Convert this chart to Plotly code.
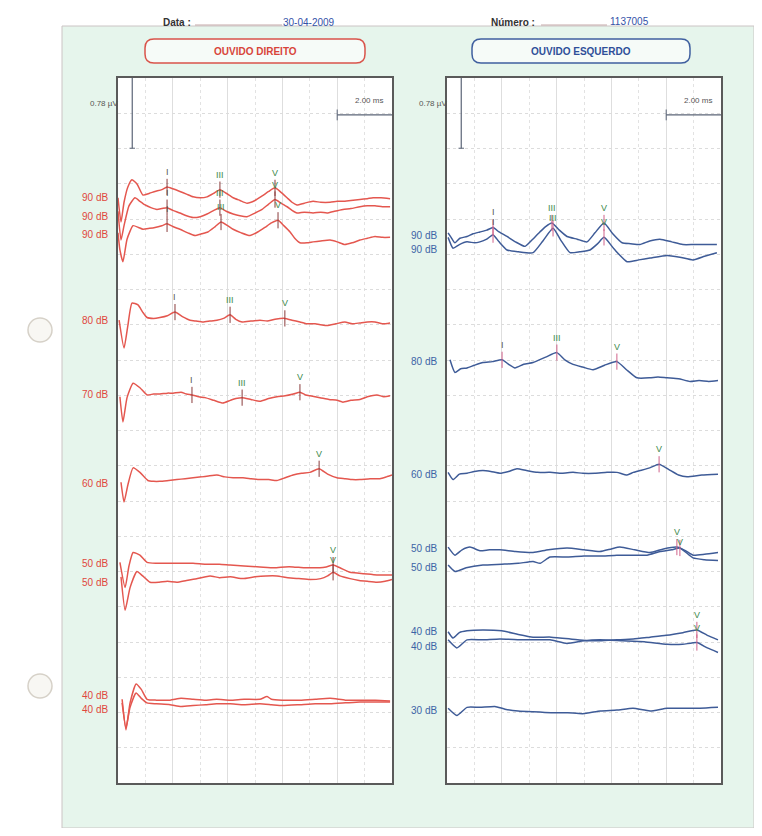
import plotly.graph_objects as go

# The page body has an 8 px margin, so the figure is 16 px smaller than the window
# and every layout position below is given in window pixels, shifted by that margin.
WIN_W, WIN_H = 762, 836
MARGIN = 8
W, H = WIN_W - 2 * MARGIN, WIN_H - 2 * MARGIN
FONT = "Arial, Liberation Sans, sans-serif"

# ---------------- DATA ----------------
exam_date = "30-04-2009"
exam_number = "1137005"
panel_titles = ["OUVIDO DIREITO", "OUVIDO ESQUERDO"]
scale_uv_text = "0.78 µV"
scale_ms_text = "2.00 ms"
scale_uv = 0.78        # µV
scale_ms = 2.00        # ms
window_ms = 10.0
y_span_uv = 7.83

# Ouvido direito (right ear, red) — (latency ms, amplitude µV relative to trace baseline)
od_levels = ["90 dB", "90 dB", "90 dB", "80 dB", "70 dB", "60 dB", "50 dB", "50 dB", "40 dB", "40 dB"]
od_offsets = [6.50, 6.29, 6.09, 5.14, 4.31, 3.33, 2.44, 2.23, 0.97, 0.82]

od_90a = [(0.00, 0.00), (0.11, -0.27), (0.22, -0.05), (0.36, 0.12), (0.51, 0.20), (0.70, 0.15), (0.91, 0.03),
          (1.15, 0.05), (1.35, 0.07), (1.60, 0.09), (1.79, 0.12), (2.00, 0.10), (2.26, 0.07), (2.50, 0.04),
          (2.74, 0.01), (3.00, 0.00), (3.25, 0.01), (3.50, 0.05), (3.72, 0.09), (3.95, 0.05), (4.20, 0.00),
          (4.45, -0.03), (4.71, -0.06), (5.00, -0.03), (5.26, 0.02), (5.50, 0.07), (5.73, 0.11), (5.95, 0.06),
          (6.17, 0.00), (6.35, -0.05), (6.53, -0.08), (6.80, -0.06), (7.12, -0.04), (7.40, -0.05), (7.74, -0.05),
          (8.00, -0.04), (8.21, -0.04), (8.50, -0.03), (8.83, -0.02), (9.10, -0.01), (9.31, 0.00), (9.60, 0.00),
          (9.93, -0.01)]
od_90b = [(0.00, 0.06), (0.11, -0.26), (0.22, -0.10), (0.40, 0.12), (0.62, 0.21), (0.80, 0.17), (0.99, 0.13),
          (1.20, 0.10), (1.42, 0.08), (1.60, 0.09), (1.79, 0.10), (2.00, 0.07), (2.26, 0.04), (2.50, 0.01),
          (2.74, -0.01), (3.00, 0.00), (3.25, 0.03), (3.50, 0.07), (3.72, 0.10), (3.95, 0.06), (4.20, 0.03),
          (4.45, 0.01), (4.71, 0.00), (5.00, 0.04), (5.26, 0.08), (5.50, 0.14), (5.73, 0.19), (5.95, 0.15),
          (6.17, 0.11), (6.35, 0.07), (6.53, 0.04), (6.80, 0.05), (7.12, 0.04), (7.40, 0.05), (7.63, 0.04),
          (7.90, 0.06), (8.21, 0.08), (8.50, 0.09), (8.83, 0.11), (9.10, 0.12), (9.38, 0.12), (9.65, 0.11),
          (9.93, 0.11)]
od_90c = [(0.00, 0.02), (0.07, -0.17), (0.18, -0.30), (0.33, -0.05), (0.55, 0.10), (0.75, 0.08), (0.91, 0.06),
          (1.15, 0.07), (1.35, 0.08), (1.60, 0.10), (1.79, 0.12), (2.00, 0.09), (2.26, 0.06), (2.55, 0.02),
          (2.81, -0.01), (3.05, 0.01), (3.28, 0.03), (3.55, 0.09), (3.76, 0.14), (4.00, 0.10), (4.20, 0.06),
          (4.50, 0.02), (4.82, -0.01), (5.10, 0.03), (5.36, 0.08), (5.60, 0.13), (5.84, 0.16), (6.05, 0.10),
          (6.28, 0.03), (6.45, -0.04), (6.64, -0.09), (6.90, -0.09), (7.12, -0.08), (7.40, -0.07), (7.74, -0.06),
          (8.00, -0.08), (8.28, -0.11), (8.55, -0.09), (8.83, -0.06), (9.10, -0.04), (9.38, -0.02), (9.65, -0.03),
          (9.93, -0.03)]
od_80 = [(0.04, 0.00), (0.22, -0.31), (0.36, -0.06), (0.51, 0.19), (0.73, 0.17), (0.90, 0.09), (1.06, 0.03),
         (1.30, 0.02), (1.53, 0.03), (1.80, 0.05), (2.08, 0.09), (2.35, 0.04), (2.63, 0.00), (2.85, -0.01),
         (3.10, -0.02), (3.35, -0.01), (3.61, 0.00), (3.85, 0.02), (4.09, 0.06), (4.30, 0.01), (4.53, -0.02),
         (4.85, -0.01), (5.18, 0.00), (5.45, -0.01), (5.73, 0.01), (6.09, 0.02), (6.35, 0.00), (6.64, -0.02),
         (6.90, -0.04), (7.19, -0.04), (7.40, -0.05), (7.63, -0.06), (7.95, -0.04), (8.28, -0.02), (8.55, -0.04),
         (8.83, -0.03), (9.10, -0.02), (9.38, -0.02), (9.65, -0.04), (9.93, -0.03)]
od_70 = [(0.07, -0.02), (0.18, -0.30), (0.33, -0.03), (0.55, 0.13), (0.80, 0.08), (1.06, 0.00), (1.30, 0.01),
         (1.53, 0.01), (1.80, 0.02), (2.01, 0.02), (2.30, 0.03), (2.50, 0.01), (2.70, 0.00), (2.95, -0.02),
         (3.18, -0.03), (3.50, -0.06), (3.83, -0.09), (4.10, -0.06), (4.30, -0.04), (4.53, -0.03), (4.85, -0.05),
         (5.18, -0.07), (5.50, -0.04), (5.80, -0.02), (6.10, -0.01), (6.40, 0.01), (6.64, 0.03), (6.85, 0.00),
         (7.01, -0.01), (7.37, -0.03), (7.70, -0.05), (8.00, -0.06), (8.21, -0.08), (8.50, -0.06), (8.83, -0.05),
         (9.10, -0.02), (9.45, 0.00), (9.70, -0.02), (9.93, -0.01)]
od_60 = [(0.11, 0.01), (0.22, -0.21), (0.36, -0.02), (0.55, 0.17), (0.80, 0.12), (1.09, 0.03), (1.30, 0.02),
         (1.53, 0.02), (1.85, 0.03), (2.15, 0.04), (2.45, 0.05), (2.74, 0.06), (3.05, 0.07), (3.30, 0.08),
         (3.61, 0.09), (3.90, 0.07), (4.20, 0.06), (4.56, 0.06), (4.85, 0.05), (5.18, 0.04), (5.50, 0.04),
         (5.80, 0.03), (6.10, 0.06), (6.39, 0.09), (6.70, 0.11), (7.00, 0.12), (7.34, 0.16), (7.65, 0.10),
         (7.99, 0.06), (8.30, 0.05), (8.55, 0.04), (8.83, 0.04), (9.20, 0.05), (9.56, 0.05), (9.80, 0.07),
         (10.00, 0.09)]
od_50a = [(0.07, 0.01), (0.26, -0.27), (0.40, -0.03), (0.55, 0.12), (0.80, 0.09), (1.06, 0.01), (1.40, 0.00),
          (1.90, 0.00), (2.30, 0.00), (2.74, 0.00), (3.20, -0.01), (3.70, -0.01), (4.09, -0.02), (4.60, -0.03),
          (5.18, -0.04), (5.70, -0.05), (6.10, -0.04), (6.39, -0.04), (6.80, -0.05), (7.10, -0.05), (7.37, -0.05),
          (7.60, -0.04), (7.85, -0.02), (8.10, -0.05), (8.47, -0.10), (8.80, -0.11), (9.10, -0.12), (9.45, -0.13),
          (9.75, -0.13), (10.00, -0.13)]
od_50b = [(0.11, 0.06), (0.26, -0.31), (0.44, -0.06), (0.69, 0.12), (0.90, 0.07), (1.17, 0.00), (1.50, 0.00),
          (1.80, 0.01), (2.15, 0.00), (2.50, 0.02), (2.90, 0.04), (3.36, 0.07), (3.70, 0.05), (4.10, 0.06),
          (4.56, 0.04), (5.00, 0.06), (5.40, 0.07), (5.80, 0.07), (6.20, 0.05), (6.60, 0.04), (7.01, 0.03),
          (7.40, 0.04), (7.65, 0.07), (7.85, 0.11), (8.10, 0.07), (8.47, 0.04), (8.80, 0.02), (9.10, 0.01),
          (9.45, 0.00), (9.75, 0.01), (10.00, 0.03)]
od_40a = [(0.15, -0.04), (0.29, -0.38), (0.44, -0.08), (0.66, 0.13), (0.85, 0.07), (1.06, -0.04), (1.40, -0.05),
          (1.90, -0.05), (2.30, -0.03), (2.74, -0.04), (3.20, -0.05), (3.60, -0.04), (4.09, -0.05), (4.60, -0.04),
          (5.18, -0.04), (5.44, -0.01), (5.60, -0.04), (6.00, -0.05), (6.64, -0.05), (7.20, -0.04), (7.74, -0.03),
          (8.30, -0.05), (8.83, -0.05), (9.40, -0.05), (9.93, -0.06)]
od_40b = [(0.15, 0.07), (0.29, -0.21), (0.44, 0.02), (0.66, 0.18), (0.85, 0.12), (1.06, 0.07), (1.40, 0.06),
          (1.90, 0.05), (2.30, 0.03), (2.74, 0.04), (3.20, 0.05), (3.60, 0.06), (4.09, 0.06), (4.60, 0.05),
          (5.18, 0.06), (5.60, 0.05), (6.00, 0.04), (6.64, 0.05), (7.20, 0.06), (7.74, 0.06), (8.30, 0.07),
          (8.83, 0.08), (9.40, 0.08), (9.93, 0.08)]
od_traces = [od_90a, od_90b, od_90c, od_80, od_70, od_60, od_50a, od_50b, od_40a, od_40b]
od_peaks = [
    [("I", 1.79), ("III", 3.72), ("V", 5.73)],
    [("I", 1.79), ("III", 3.72), ("V", 5.73)],
    [("I", 1.79), ("III", 3.76), ("V", 5.84)],
    [("I", 2.08), ("III", 4.09), ("V", 6.09)],
    [("I", 2.70), ("III", 4.53), ("V", 6.64)],
    [("V", 7.34)],
    [("V", 7.85)],
    [("V", 7.85)],
    [],
    [],
]

# Ouvido esquerdo (left ear, blue)
oe_levels = ["90 dB", "90 dB", "80 dB", "60 dB", "50 dB", "50 dB", "40 dB", "40 dB", "30 dB"]
oe_offsets = [6.08, 5.93, 4.68, 3.43, 2.60, 2.39, 1.68, 1.52, 0.81]

oe_90a = [(0.04, 0.03), (0.15, -0.02), (0.29, -0.08), (0.47, -0.03), (0.73, -0.01), (0.95, 0.02), (1.20, 0.04),
          (1.45, 0.06), (1.68, 0.09), (1.90, 0.04), (2.19, -0.01), (2.50, -0.07), (2.85, -0.12), (3.10, -0.05),
          (3.39, 0.04), (3.60, 0.10), (3.83, 0.14), (4.10, 0.06), (4.38, -0.01), (4.75, -0.04), (5.11, -0.07),
          (5.40, 0.03), (5.73, 0.14), (6.05, 0.02), (6.39, -0.08), (6.70, -0.09), (7.04, -0.10), (7.40, -0.06),
          (7.77, -0.04), (8.20, -0.07), (8.61, -0.10), (9.00, -0.10), (9.40, -0.10), (9.85, -0.10)]
oe_90b = [(0.04, 0.13), (0.22, 0.01), (0.45, 0.05), (0.73, 0.08), (1.00, 0.07), (1.20, 0.08), (1.45, 0.11),
          (1.68, 0.16), (1.90, 0.08), (2.19, -0.01), (2.60, -0.03), (3.14, -0.04), (3.50, 0.09), (3.87, 0.23),
          (4.15, 0.10), (4.49, -0.04), (4.85, -0.03), (5.22, -0.01), (5.50, 0.06), (5.73, 0.13), (6.10, 0.00),
          (6.57, -0.14), (7.00, -0.12), (7.41, -0.10), (8.03, -0.07), (8.50, -0.09), (8.98, -0.12), (9.40, -0.08),
          (9.85, -0.04)]
oe_80 = [(0.11, 0.02), (0.29, -0.12), (0.50, -0.08), (0.73, -0.07), (1.00, -0.04), (1.31, -0.01), (1.65, 0.00),
         (2.01, 0.02), (2.25, -0.03), (2.48, -0.07), (2.80, -0.03), (3.14, -0.01), (3.60, 0.05), (4.01, 0.10),
         (4.30, 0.02), (4.60, -0.03), (4.95, -0.06), (5.33, -0.09), (5.75, -0.04), (6.20, 0.00), (6.55, -0.09),
         (6.93, -0.18), (7.40, -0.18), (7.70, -0.17), (8.03, -0.18), (8.45, -0.19), (8.87, -0.22), (9.20, -0.21),
         (9.55, -0.22), (9.89, -0.21)]
oe_60 = [(0.04, 0.02), (0.22, -0.06), (0.45, 0.00), (0.73, 0.01), (1.00, 0.03), (1.31, 0.04), (1.60, 0.03),
         (1.93, 0.01), (2.25, 0.03), (2.55, 0.06), (2.90, 0.04), (3.30, 0.02), (3.76, 0.02), (4.20, 0.01),
         (4.60, 0.02), (4.96, 0.01), (5.40, 0.01), (5.84, 0.02), (6.20, 0.02), (6.57, -0.01), (6.80, 0.02),
         (7.04, 0.04), (7.40, 0.07), (7.74, 0.11), (8.10, 0.05), (8.45, -0.01), (8.76, -0.03), (9.30, -0.01),
         (9.89, 0.00)]
oe_50a = [(0.04, 0.02), (0.29, -0.07), (0.55, -0.01), (0.84, 0.02), (1.20, -0.02), (1.55, -0.01), (1.93, -0.01),
          (2.50, -0.03), (3.14, -0.04), (3.70, -0.01), (4.38, 0.01), (5.00, -0.01), (5.58, -0.03), (6.00, 0.00),
          (6.31, 0.02), (6.85, -0.01), (7.41, -0.04), (7.90, 0.00), (8.39, 0.02), (8.70, -0.02), (8.98, -0.07),
          (9.40, -0.06), (9.89, -0.04)]
oe_50b = [(0.04, 0.03), (0.29, -0.04), (0.70, 0.00), (1.31, 0.03), (2.00, 0.04), (2.60, 0.05), (3.14, 0.07),
          (3.40, 0.05), (3.76, 0.12), (4.40, 0.12), (5.00, 0.13), (5.58, 0.13), (6.20, 0.14), (6.79, 0.14),
          (7.30, 0.14), (7.77, 0.18), (8.20, 0.20), (8.50, 0.22), (8.98, 0.11), (9.40, 0.09), (9.89, 0.08)]
oe_40a = [(0.04, 0.00), (0.22, -0.07), (0.45, -0.01), (0.73, 0.01), (1.31, 0.02), (2.00, 0.01), (2.60, -0.03),
          (3.14, -0.06), (3.80, -0.06), (4.50, -0.08), (5.10, -0.10), (5.58, -0.10), (6.20, -0.09), (6.80, -0.08),
          (7.41, -0.06), (8.00, -0.04), (8.61, -0.01), (9.12, 0.02), (9.50, -0.04), (9.89, -0.09)]
oe_40b = [(0.04, 0.07), (0.36, -0.02), (0.73, 0.07), (1.30, 0.07), (1.93, 0.08), (2.80, 0.07), (3.76, 0.07),
          (4.38, 0.03), (5.00, 0.06), (5.58, 0.07), (6.40, 0.06), (7.20, 0.05), (8.03, 0.02), (8.60, 0.02),
          (9.12, 0.04), (9.50, -0.02), (9.89, -0.07)]
oe_30 = [(0.04, 0.02), (0.36, -0.06), (0.73, 0.03), (1.20, 0.03), (1.75, 0.04), (2.12, 0.01), (2.60, -0.01),
         (3.14, -0.02), (3.80, -0.03), (4.40, -0.03), (4.96, -0.04), (5.60, -0.01), (6.20, 0.00), (6.79, 0.02),
         (7.41, -0.01), (8.03, 0.02), (8.60, 0.02), (9.23, 0.02), (9.89, 0.03)]
oe_traces = [oe_90a, oe_90b, oe_80, oe_60, oe_50a, oe_50b, oe_40a, oe_40b, oe_30]
oe_peaks = [
    [("I", 1.68), ("III", 3.83), ("V", 5.73)],
    [("I", 1.68), ("III", 3.87), ("V", 5.73)],
    [("I", 2.01), ("III", 4.01), ("V", 6.20)],
    [("V", 7.74)],
    [("V", 8.39)],
    [("V", 8.50)],
    [("V", 9.12)],
    [("V", 9.12)],
    [],
]

# ---------------- STYLE / LAYOUT ----------------
RED = "#e4574f"
RED_TXT = "#e0473c"
BLUE = "#3e5b97"
BLUE_TXT = "#3c64a6"
GREEN_BG = "#e6f5ec"
PEAK_GREEN = "#3d8a4a"
PEAK_DARK = "#555555"

PANEL_TOP, PANEL_BOTTOM = 78, 783          # window pixels
PX_PER_UV = (PANEL_BOTTOM - PANEL_TOP) / y_span_uv


def px(x):
    return (x - MARGIN) / W


def py(y):
    return 1 - (y - MARGIN) / H


fig = go.Figure()


def add_panel(n, traces, offsets, levels, peaks, color, lvl_color, tick_color):
    xr = "x" if n == 1 else "x2"
    yr = "y" if n == 1 else "y2"
    fig.add_shape(type="rect", xref=f"{xr} domain", yref=f"{yr} domain", x0=0, x1=1, y0=0, y1=1,
                  fillcolor="white", line=dict(width=0), layer="below")
    placed = []   # (latency, label level in µV) for stacking labels like the printout
    for pts, off, lvl, pk in zip(traces, offsets, levels, peaks):
        t = [p[0] for p in pts]
        v = [off + p[1] for p in pts]
        fig.add_trace(go.Scatter(x=t, y=v, mode="lines",
                                 line=dict(color=color, width=1.5, shape="spline", smoothing=0.5),
                                 xaxis=xr, yaxis=yr, hoverinfo="skip", showlegend=False))
        fig.add_annotation(text=lvl, xref=f"{xr} domain", yref=yr, x=-0.03, y=off,
                           xanchor="right", yanchor="middle", showarrow=False,
                           font=dict(size=10, color=lvl_color, family=FONT))
        lookup = dict(pts)
        for name, lat in pk:
            yv = off + lookup[lat]
            fig.add_shape(type="line", xref=xr, yref=yr, x0=lat, x1=lat, y0=yv - 0.09, y1=yv + 0.09,
                          line=dict(color=tick_color, width=1))
            lab = yv + 15 / PX_PER_UV
            for plat, ppos in placed:
                if abs(plat - lat) < 0.35 and abs(ppos - lab) < 10 / PX_PER_UV:
                    lab = ppos - 10 / PX_PER_UV
            placed.append((lat, lab))
            fig.add_annotation(text=name, xref=xr, yref=yr, x=lat, y=yv, yshift=(lab - yv) * PX_PER_UV,
                               showarrow=False,
                               font=dict(size=9, color=PEAK_DARK if name == "I" else PEAK_GREEN, family=FONT))
    top = y_span_uv
    bar = "#5b6577"
    fig.add_shape(type="line", xref=xr, yref=yr, x0=0.52, x1=0.52, y0=top, y1=top - scale_uv,
                  line=dict(color=bar, width=1.2))
    fig.add_shape(type="line", xref=xr, yref=yr, x0=0.42, x1=0.62, y0=top - scale_uv, y1=top - scale_uv,
                  line=dict(color=bar, width=1.0))
    fig.add_annotation(text=scale_uv_text, xref=f"{xr} domain", yref=yr, x=0, xshift=2, y=top - 0.28,
                       xanchor="right", showarrow=False, font=dict(size=8, color="#555", family=FONT))
    fig.add_shape(type="line", xref=xr, yref=yr, x0=window_ms - scale_ms, x1=window_ms, y0=7.42, y1=7.42,
                  line=dict(color=bar, width=1.2))
    fig.add_shape(type="line", xref=xr, yref=yr, x0=window_ms - scale_ms, x1=window_ms - scale_ms,
                  y0=7.36, y1=7.48, line=dict(color=bar, width=1.0))
    fig.add_annotation(text=scale_ms_text, xref=xr, yref=yr, x=window_ms - scale_ms * 0.42, y=7.58,
                       showarrow=False, font=dict(size=8, color="#555", family=FONT))


# green page background
fig.add_shape(type="rect", xref="paper", yref="paper", x0=px(62), x1=1.0, y0=0.0, y1=py(26),
              fillcolor=GREEN_BG, line=dict(color="#cbc4c4", width=1), layer="below")

# punched holes of the scanned sheet
for cx, cy in [(40, 330), (40, 686)]:
    fig.add_shape(type="circle", xref="paper", yref="paper",
                  x0=px(cx - 12), x1=px(cx + 12), y0=py(cy + 12), y1=py(cy - 12),
                  fillcolor="#f8f7f3", line=dict(color="#d6d1c8", width=1.5), layer="below")

add_panel(1, od_traces, od_offsets, od_levels, od_peaks, RED, RED_TXT, "#8a3b3b")
add_panel(2, oe_traces, oe_offsets, oe_levels, oe_peaks, BLUE, BLUE_TXT, "#d0628a")


def rounded_box(x0, y0, x1, y1, r, color):
    rx, ry = r / W, r / H
    X0, X1 = px(x0), px(x1)
    Y0, Y1 = py(y1), py(y0)
    path = (f"M {X0 + rx},{Y1} L {X1 - rx},{Y1} Q {X1},{Y1} {X1},{Y1 - ry} "
            f"L {X1},{Y0 + ry} Q {X1},{Y0} {X1 - rx},{Y0} L {X0 + rx},{Y0} "
            f"Q {X0},{Y0} {X0},{Y0 + ry} L {X0},{Y1 - ry} Q {X0},{Y1} {X0 + rx},{Y1} Z")
    fig.add_shape(type="path", xref="paper", yref="paper", path=path,
                  fillcolor="#f6fbf8", line=dict(color=color, width=1.5))


rounded_box(145, 39, 365, 63, 9, "#d9534a")
rounded_box(472, 39, 690, 63, 9, "#3f5f9f")

for x0, x1 in [(195, 282), (541, 607)]:
    fig.add_shape(type="line", xref="paper", yref="paper", x0=px(x0), x1=px(x1), y0=py(25), y1=py(25),
                  line=dict(color="#c4a8a8", width=1))

header = [
    ("<b>Data :</b>", 177, 22, "#333333", 10),
    (exam_date, 309, 22, "#3352a8", 10),
    ("<b>Número :</b>", 513, 22, "#333333", 10),
    (exam_number, 629, 21, "#3352a8", 10),
    (f"<b>{panel_titles[0]}</b>", 255, 51, "#d8453a", 10),
    (f"<b>{panel_titles[1]}</b>", 581, 51, "#2f4f99", 10),
]
for txt, x, y, c, s in header:
    fig.add_annotation(text=txt, xref="paper", yref="paper", x=px(x), y=py(y), showarrow=False,
                       xanchor="center", yanchor="middle", font=dict(size=s, color=c, family=FONT))

axis_common = dict(range=[0, window_ms], showline=True, mirror=True, linecolor="#5a5a5a", linewidth=1.5,
                   showticklabels=False, ticks="", zeroline=False, showgrid=True, dtick=2, tick0=0,
                   gridcolor="#dedede", gridwidth=1,
                   minor=dict(dtick=1, showgrid=True, gridcolor="#e2e2e2", griddash="dot"),
                   fixedrange=True)
yaxis_common = dict(range=[0, y_span_uv], showline=True, mirror=True, linecolor="#5a5a5a", linewidth=1.5,
                    showticklabels=False, ticks="", zeroline=False, showgrid=True, dtick=y_span_uv / 20,
                    tick0=0, gridcolor="#dcdcdc", griddash="dot", gridwidth=1, fixedrange=True)

fig.update_layout(
    width=W, height=H, margin=dict(l=0, r=0, t=0, b=0),
    paper_bgcolor="white", plot_bgcolor="white", showlegend=False,
    font=dict(family=FONT),
    xaxis=dict(domain=[px(118), px(392)], anchor="y", **axis_common),
    yaxis=dict(domain=[py(PANEL_BOTTOM), py(PANEL_TOP)], anchor="x", **yaxis_common),
    xaxis2=dict(domain=[px(447), px(721)], anchor="y2", **axis_common),
    yaxis2=dict(domain=[py(PANEL_BOTTOM), py(PANEL_TOP)], anchor="x2", **yaxis_common),
)

fig.write_html("out.html")
